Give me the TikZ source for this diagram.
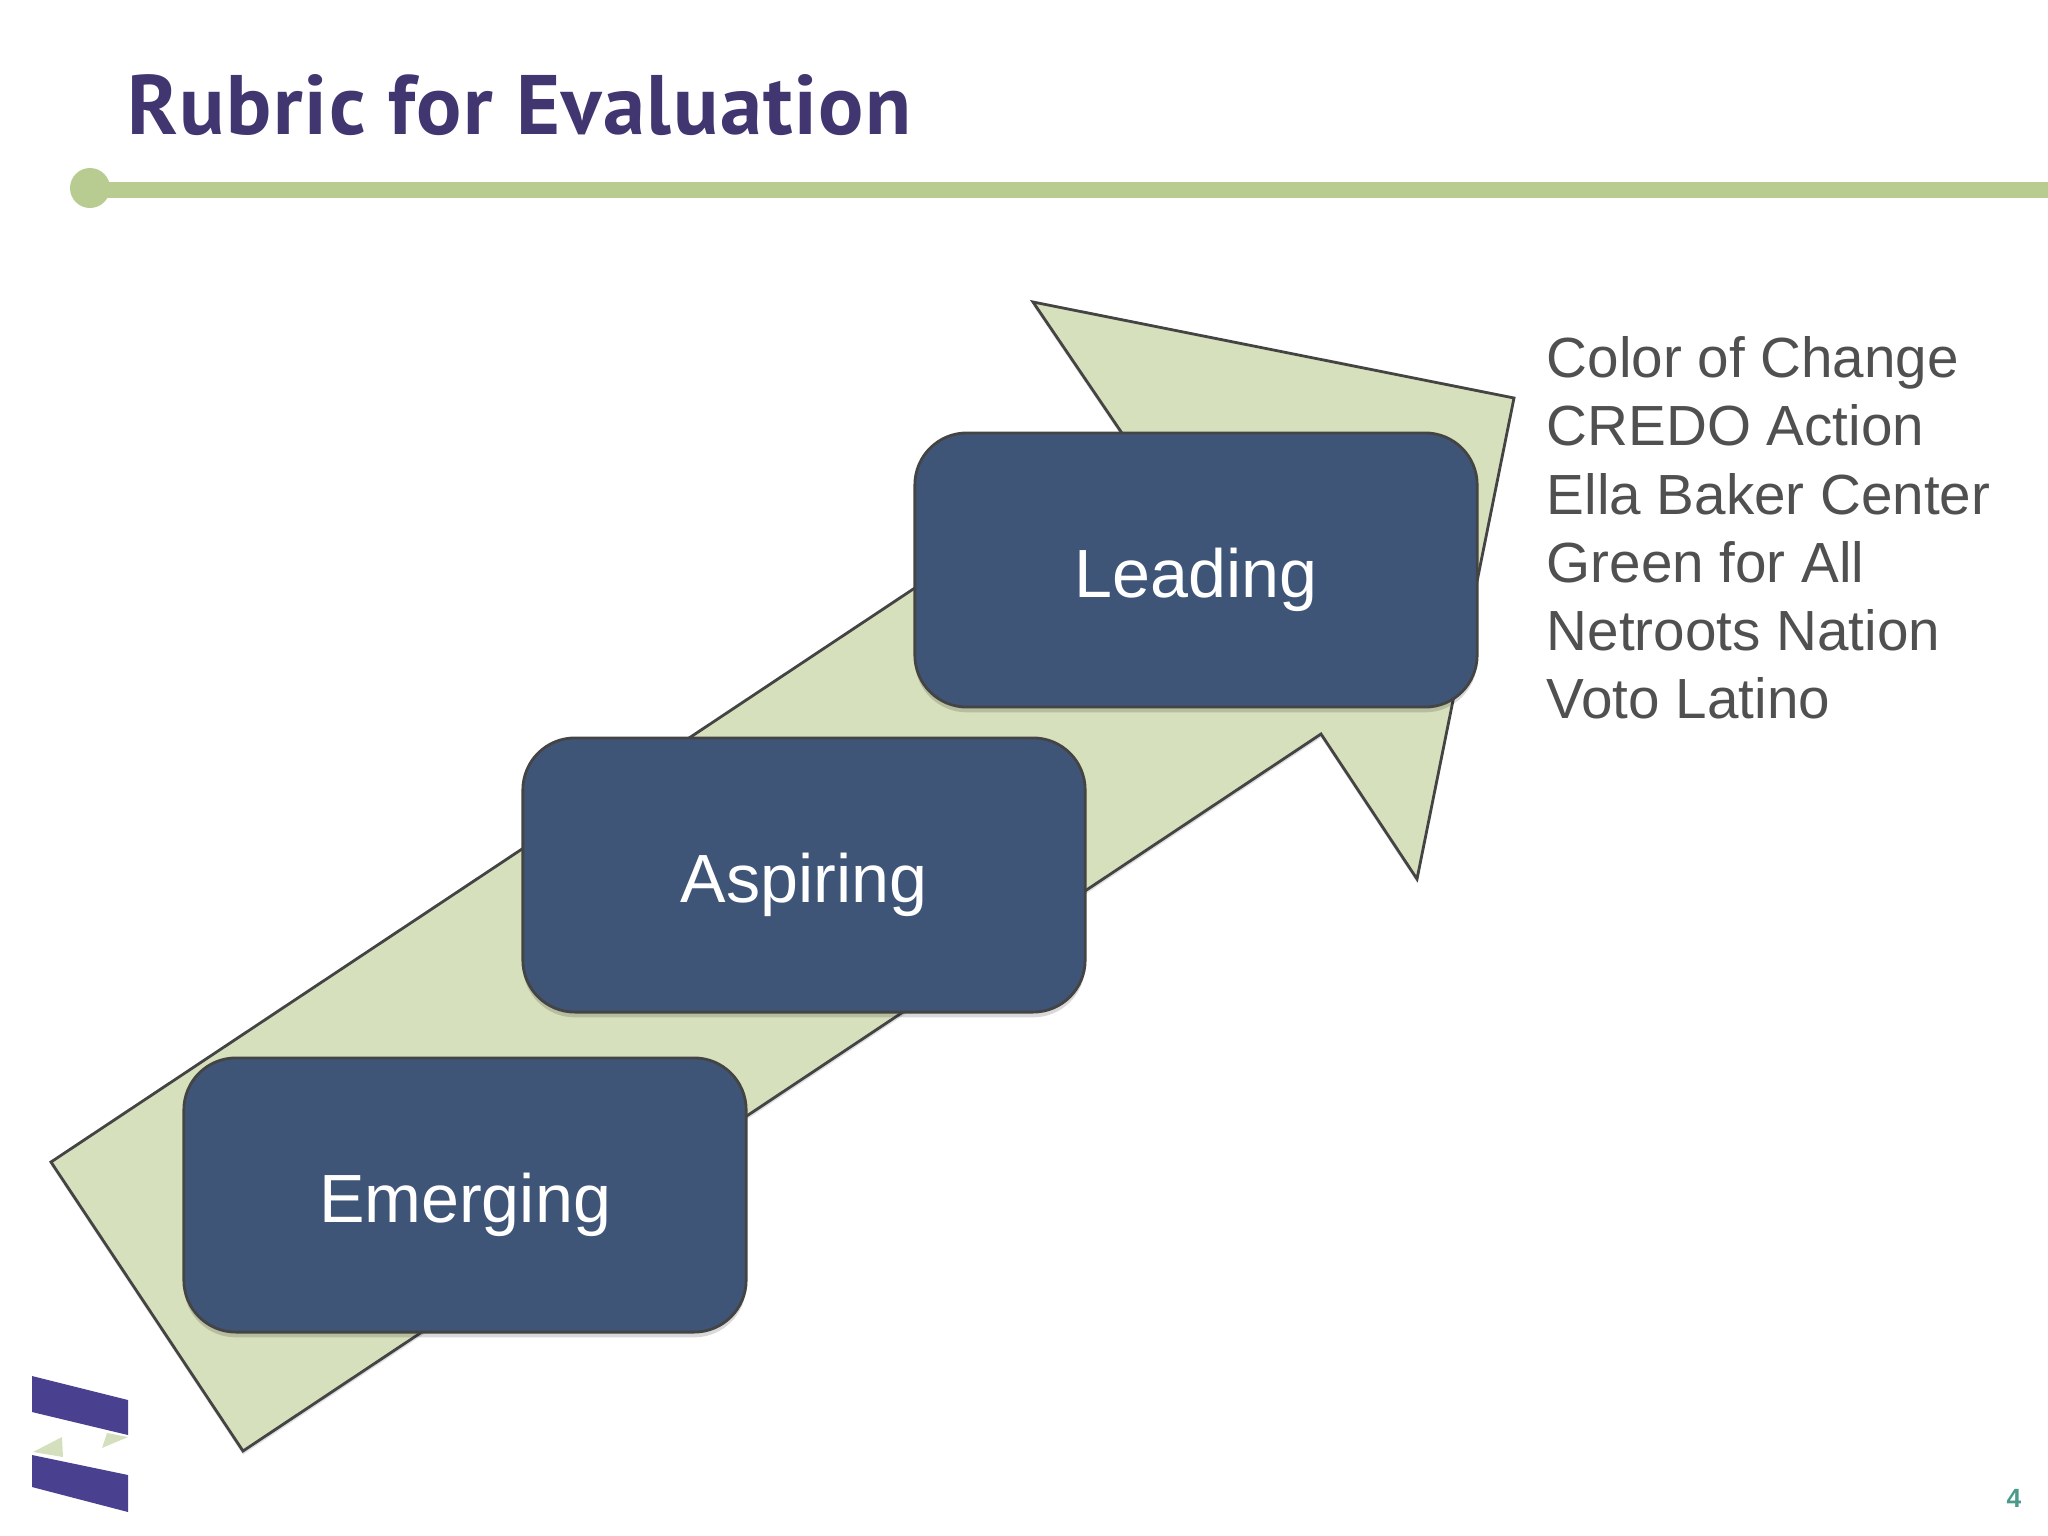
\documentclass[tikz,border=0pt]{standalone}
\usepackage{fontspec}
\setmainfont{Liberation Sans}
\newfontfamily\titlefont[LetterSpace=1.8]{PT Sans}
\usetikzlibrary{shadows}
\definecolor{titleviolet}{HTML}{41366F}
\definecolor{rulegreen}{HTML}{B8CC91}
\definecolor{arrowgreen}{HTML}{D6E0BC}
\definecolor{boxblue}{HTML}{3F5578}
\definecolor{edgegrey}{HTML}{444444}
\definecolor{listgrey}{HTML}{505050}
\definecolor{pageteal}{HTML}{4A9A8C}
\definecolor{logoviolet}{HTML}{4A4090}
\tikzset{
	stage/.style={draw=edgegrey, line width=0.8pt, fill=boxblue, rounded corners=0.52cm, minimum width=5.62cm, minimum height=2.74cm, text=white, text height=19.4pt, text depth=4pt, font=\fontsize{19.4}{23}\selectfont, drop shadow={shadow xshift=0pt, shadow yshift=-1.5pt, fill=black, opacity=0.15}},
	logobar/.style={fill=logoviolet},
	logotip/.style={fill=rulegreen!60}
}
\begin{document}
\begin{tikzpicture}[x=0.01cm,y=-0.01cm]
	\useasboundingbox (0,0) rectangle (2048,1536);
	\node[anchor=base west, inner sep=0pt, text=titleviolet, font=\titlefont\bfseries\fontsize{24}{28}\selectfont] (title) at (127,134) {Rubric for Evaluation};
	\fill[rulegreen] (90,182) rectangle (2048,198);
	\fill[rulegreen] (90,188) circle (20);
	% arrow behind the boxes
	\draw[edgegrey, line width=0.8pt, fill=arrowgreen, line join=miter, drop shadow={shadow xshift=0pt, shadow yshift=-1pt, fill=black, opacity=0.12}]
	(51,1162) -- (243,1451) -- (1321,734) -- (1417,879) -- (1514,398) -- (1033,302) -- (1130,445) -- cycle;
	\node[stage] (emerging) at (465,1195) {Emerging};
	\node[stage] (aspiring) at (804,875) {Aspiring};
	\node[stage] (leading) at (1196,570) {Leading};
	\node[anchor=north west, inner sep=0pt, align=left, text=listgrey, font=\fontsize{16.1}{19.4}\selectfont] (orgs) at (1546,336) {Color of Change\\CREDO Action\\Ella Baker Center\\Green for All\\Netroots Nation\\Voto Latino};
	\node[text=pageteal, font=\bfseries\fontsize{7.5}{9}\selectfont, inner sep=0pt] (pagenum) at (2014,1498) {4};
	% logo
	\fill[logobar] (32,1376) -- (128,1400) -- (128,1435) -- (32,1412) -- cycle;
	\fill[logobar] (32,1455) -- (128,1475) -- (128,1512) -- (32,1487) -- cycle;
	\fill[logotip] (33,1452) -- (62,1437) -- (63,1457) -- cycle;
	\fill[logotip] (102,1448) -- (107,1433) -- (128,1437) -- cycle;
\end{tikzpicture}
\end{document}
